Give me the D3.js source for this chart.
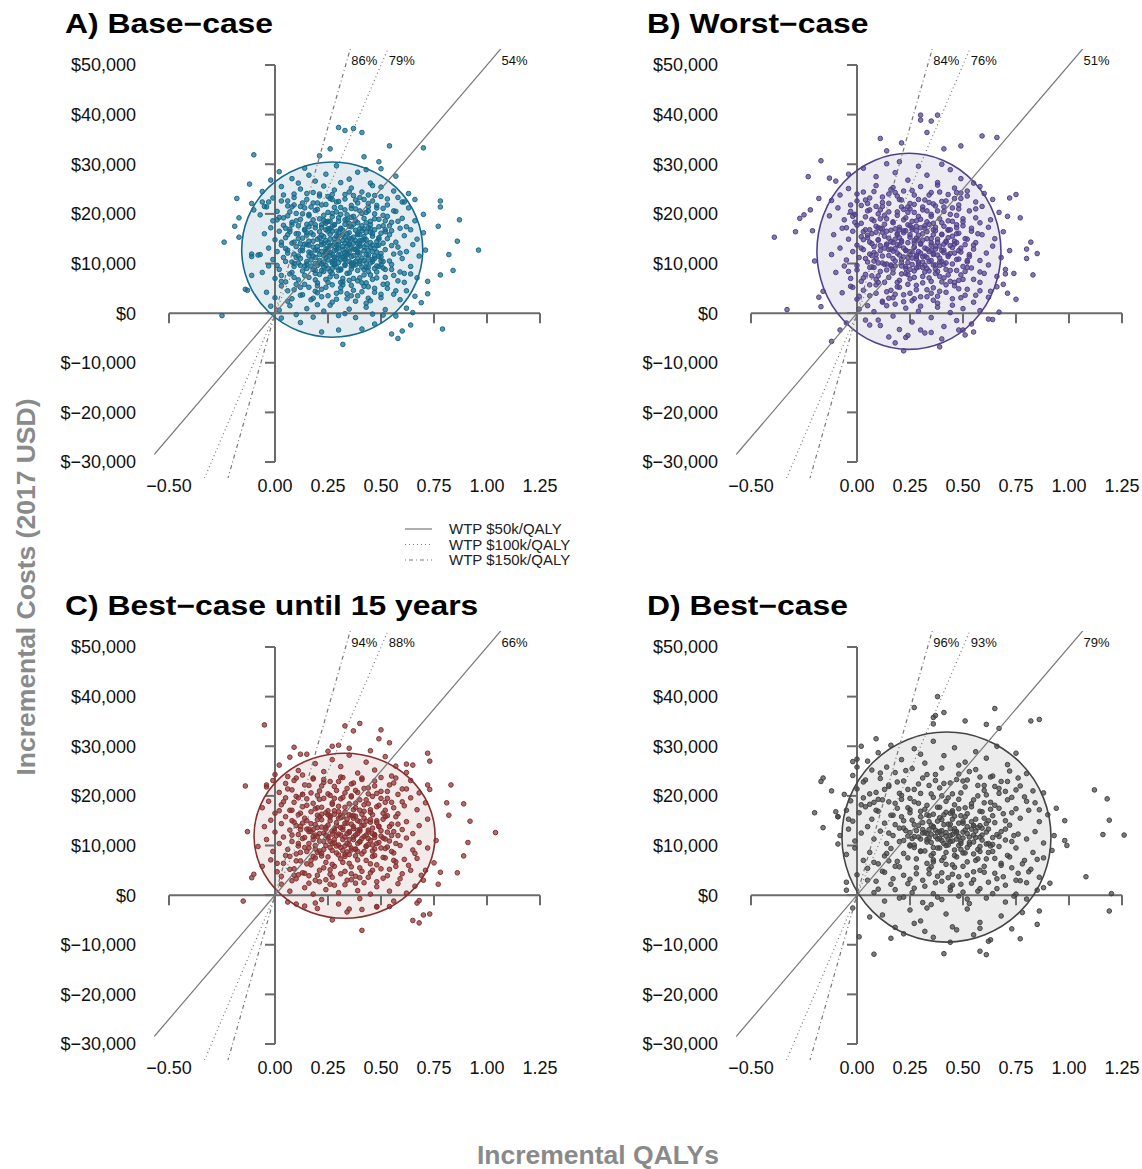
<!DOCTYPE html>
<html>
<head>
<meta charset="utf-8">
<script src="https://cdn.jsdelivr.net/npm/d3@7"></script>
<style>
  body { margin: 0; background: #fff; }
  svg text { font-family: "Liberation Sans", Arial, Helvetica, sans-serif; }
</style>
</head>
<body>
<svg id="chart" width="1142" height="1169"></svg>
<script>
// ---- data ----
const panelTitles = ["A) Base\u2212case", "B) Worst\u2212case", "C) Best\u2212case until 15 years", "D) Best\u2212case"]
const wtpValues = [50000, 100000, 150000]
const wtpNames = ["WTP $50k/QALY", "WTP $100k/QALY", "WTP $150k/QALY"]
const probsA = [54, 79, 86]
const probsB = [51, 76, 84]
const probsC = [66, 88, 94]
const probsD = [79, 93, 96]
const xTicks = [-0.5, 0, 0.25, 0.5, 0.75, 1, 1.25]
const yTicks = [-30000, -20000, -10000, 0, 10000, 20000, 30000, 40000, 50000]
// 95% ellipse: centre (QALY, $) and radii
const ellipseA = [0.27, 12800, 0.427, 17650]
const ellipseB = [0.245, 12450, 0.434, 19760]
const ellipseC = [0.328, 11970, 0.427, 16630]
const ellipseD = [0.422, 11700, 0.493, 21170]

// simulations: [QALY x100, cost / 100]
const pointsA = [[30,374],[33,368],[37,372],[41,364],[26,331],[21,317],[-10,319],[54,337],[70,333],[42,315],[49,305],[-18,231],[-24,143],[-19,175],[-17,192],[-17,153],[-12,260],[78,226],[78,214],[87,188],[77,175],[86,145],[96,127],[82,118],[84,86],[78,77],[72,64],[72,39],[69,21],[65,1],[64,-24],[60,-36],[55,-42],[58,-51],[79,-32],[32,-63],[-25,-5],[-14,48],[-13,46],[-11,76],[-11,119],[-11,114],[-8,117],[-10,208],[-11,221],[-6,224],[-5,215],[12,-19],[22,-38],[30,-34],[41,-32],[47,-22],[51,-4],[3,-10],[-2,14],
[2,285],[8,271],[14,292],[19,266],[24,280],[29,297],[35,270],[39,284],[45,262],[50,291],[-2,268],[11,262],[31,263],[57,276],[16,278],[43,289],
[-6,245],[-1,232],[3,255],[6,226],[9,240],[12,250],[15,229],[18,243],[20,222],[23,256],[25,235],[28,248],[30,225],[33,239],[36,252],[38,228],[41,244],[44,221],[47,237],[50,254],[53,230],[56,246],[60,224],[63,241],[4,238],[13,222],[27,229],[35,244],[46,257],[58,233],[66,229],[-3,224],[21,240],[40,233],
[-7,198],[-4,214],[-1,186],[1,205],[4,192],[6,216],[8,183],[10,201],[12,189],[14,212],[16,196],[17,181],[19,207],[21,190],[22,218],[24,184],[25,203],[27,194],[28,213],[30,185],[31,199],[33,208],[34,188],[36,217],[37,195],[39,182],[40,206],[42,191],[44,214],[45,185],[47,200],[49,189],[51,211],[53,195],[55,183],[57,205],[60,191],[63,212],[66,186],[70,199],[2,193],[13,200],[23,197],[29,204],[35,181],[43,203],[52,186],[9,218],[18,188],[26,185],[38,210],[48,217],
[-5,160],[-2,172],[0,148],[2,165],[4,177],[5,152],[7,169],[9,143],[10,160],[11,176],[13,151],[14,167],[15,179],[16,145],[18,158],[19,172],[20,149],[21,164],[22,178],[23,154],[24,168],[25,142],[26,159],[27,175],[28,150],[29,165],[30,144],[31,171],[32,157],[33,179],[34,147],[35,162],[36,174],[37,153],[38,167],[39,141],[40,158],[41,176],[42,149],[43,163],[44,172],[46,155],[47,168],[48,144],[50,161],[51,176],[53,150],[55,166],[57,143],[59,171],[61,156],[64,168],[67,149],[70,162],[6,158],[12,140],[17,162],[22,143],[26,170],[30,155],[33,141],[37,179],[40,146],[45,178],[49,152],[54,158],[62,174],[3,143],[8,178],[15,157],[24,146],[28,178],[35,151],[42,170],[52,168],
[-7,118],[-3,131],[-1,108],[1,124],[3,137],[4,112],[6,127],[8,103],[9,119],[10,134],[12,110],[13,126],[14,139],[15,104],[17,121],[18,133],[19,112],[20,127],[21,101],[22,138],[23,116],[24,130],[25,107],[26,122],[27,136],[28,113],[29,128],[30,102],[31,119],[32,134],[33,109],[34,125],[35,138],[36,114],[37,129],[38,104],[39,121],[40,135],[41,111],[42,126],[43,101],[44,117],[45,132],[46,108],[48,123],[49,137],[50,113],[52,128],[54,105],[56,119],[58,133],[60,110],[62,124],[65,138],[68,115],[71,127],[5,130],[11,115],[16,137],[19,100],[24,119],[27,104],[30,131],[33,122],[36,101],[39,132],[43,138],[47,115],[51,104],[55,136],[59,121],[16,115],[25,126],[34,117],[29,111],[22,124],
[-6,82],[-3,95],[0,70],[2,88],[5,63],[7,79],[9,94],[11,67],[13,85],[15,99],[16,72],[18,88],[20,61],[21,78],[23,93],[24,68],[26,84],[28,97],[29,74],[31,89],[32,63],[34,80],[36,95],[37,70],[39,86],[41,61],[42,77],[44,92],[46,68],[48,83],[50,97],[52,72],[55,88],[58,65],[61,80],[64,94],[67,71],[3,76],[12,96],[19,80],[25,62],[33,98],[40,71],[47,90],[56,76],[27,80],[35,66],[22,86],
[-4,42],[0,31],[3,55],[6,24],[9,47],[12,36],[14,58],[17,27],[19,44],[22,33],[24,52],[27,22],[29,40],[32,57],[34,29],[37,46],[39,35],[42,54],[45,25],[47,42],[50,31],[53,50],[56,38],[59,27],[62,45],[66,34],[8,29],[20,55],[31,43],[43,20],[51,58],
[2,6],[7,15],[10,-3],[15,9],[18,-8],[23,4],[26,16],[30,-5],[35,8],[38,-9],[43,12],[46,-2],[52,7],[57,-6],[62,10],[20,17],[33,-1],
[6,121],[8,141],[10,112],[11,150],[13,131],[14,95],[15,162],[16,123],[17,107],[18,145],[19,86],[20,134],[21,118],[22,157],[22,99],[23,140],[24,112],[24,181],[25,131],[25,90],[26,149],[26,116],[27,101],[27,165],[28,126],[28,141],[29,93],[29,155],[30,118],[30,137],[31,108],[31,170],[32,128],[32,146],[33,96],[33,115],[34,160],[34,135],[35,104],[35,123],[36,150],[36,89],[37,141],[37,116],[38,128],[38,97],[39,158],[39,110],[40,139],[40,121],[41,93],[41,166],[42,133],[42,106],[43,148],[43,118],[44,127],[44,84],[45,142],[45,101],[46,160],[46,124],[47,110],[48,136],[48,95],[49,149],[50,120],[50,105],[51,141],[52,88],[12,126],[9,100],[7,164],[16,174],[19,127],[21,152],[23,103],[25,170],[27,118],[29,138],[31,87],[33,153],[35,140],[37,101],[39,123],[41,146],[43,92],[45,170],[47,130],[49,114],[15,138],[18,115],[20,96],[24,124],[26,136],[28,107],[30,162],[32,112],[34,120],[36,132],[38,146],[40,104],[42,154],[44,111],[46,137],
[1,188],[3,226],[5,171],[7,204],[9,233],[10,186],[12,215],[14,169],[15,241],[16,199],[18,222],[19,178],[20,209],[21,236],[23,187],[24,219],[25,165],[26,231],[27,201],[28,178],[29,224],[30,192],[31,213],[32,167],[33,230],[34,198],[35,175],[36,211],[37,237],[38,186],[39,222],[40,170],[41,201],[42,229],[43,182],[44,206],[45,163],[46,226],[47,190],[48,212],[49,174],[50,235],[51,197],[53,218],[54,176],[56,206],[58,185],[61,224],[6,196],[11,160],[17,214],[22,173],[27,239],[33,188],[39,161],[44,238],[52,164],[8,214],[25,185],[36,193],
[1,96],[3,64],[5,104],[6,45],[8,82],[10,58],[11,101],[13,37],[14,76],[16,52],[17,95],[18,30],[19,67],[21,106],[22,48],[23,84],[25,35],[26,73],[27,57],[28,100],[29,28],[30,86],[31,51],[32,70],[33,108],[34,39],[35,81],[36,56],[37,97],[38,24],[39,65],[40,100],[41,43],[42,88],[43,61],[44,30],[45,77],[46,104],[47,50],[48,71],[50,38],[51,91],[53,59],[55,98],[57,45],[59,83],[61,62],[64,79],[9,72],[15,90],[20,41],[24,96],[31,62],[36,35],[44,53],[49,94],[12,52],[27,90]]

const pointsB = [[30,399],[38,399],[30,389],[35,387],[33,364],[59,357],[66,354],[11,352],[21,343],[41,331],[49,337],[14,327],[-17,307],[-23,275],[-13,272],[-18,231],[-22,208],[-27,191],[-25,198],[-39,153],[-29,164],[-21,166],[-20,105],[-33,7],[72,232],[75,239],[77,192],[82,143],[80,129],[85,120],[80,110],[83,77],[70,79],[69,58],[64,-13],[51,-44],[39,-68],[22,-76],[18,-60],[23,-49],[-12,-57],[-8,-34],[-5,-20],[-18,32],[-17,13],[-16,44],[48,-34],[50,-34],[30,-34],[35,-39],[6,-24],[10,-14],
[3,292],[9,275],[14,301],[18,283],[24,268],[29,296],[33,278],[38,263],[44,289],[49,271],[-4,280],[20,305],[40,300],[55,262],[-10,266],
[-8,238],[-4,251],[0,226],[3,244],[6,232],[9,257],[12,223],[15,240],[17,253],[20,229],[22,246],[25,221],[27,238],[30,255],[32,228],[35,243],[38,258],[40,225],[43,239],[46,252],[49,231],[52,246],[56,224],[60,241],[64,229],[-12,227],[5,221],[19,236],[34,223],[47,243],[58,255],
[-13,196],[-9,212],[-6,188],[-3,205],[-1,183],[2,217],[4,194],[6,208],[8,186],[10,200],[12,215],[14,190],[15,204],[17,182],[19,197],[21,214],[22,188],[24,203],[26,185],[27,219],[29,195],[31,208],[33,184],[35,199],[37,216],[39,190],[41,205],[43,186],[45,212],[47,197],[50,184],[53,206],[56,192],[59,215],[63,188],[67,203],[71,195],[11,190],[25,210],[36,181],[48,218],[-2,195],
[-11,158],[-7,171],[-4,149],[-2,165],[0,177],[2,154],[4,168],[6,143],[7,160],[9,175],[10,148],[12,163],[13,179],[15,151],[16,167],[17,142],[19,158],[20,173],[21,146],[22,162],[24,178],[25,153],[26,168],[27,141],[29,157],[30,172],[31,147],[33,164],[34,179],[35,150],[37,166],[38,143],[40,159],[41,175],[43,152],[44,168],[46,145],[48,161],[50,176],[52,149],[54,165],[56,142],[59,158],[62,173],[65,150],[69,164],[5,157],[11,171],[18,149],[23,166],[28,151],[32,176],[36,158],[42,143],[47,172],[57,160],
[-12,118],[-8,131],[-5,107],[-2,124],[0,137],[1,112],[3,128],[5,103],[6,119],[8,134],[9,110],[11,126],[12,101],[14,138],[15,116],[16,129],[18,105],[19,121],[20,136],[22,113],[23,127],[24,102],[25,118],[27,133],[28,109],[29,124],[30,139],[32,115],[33,129],[34,104],[36,120],[37,135],[39,111],[40,126],[42,101],[43,117],[45,132],[47,108],[49,123],[51,138],[53,114],[55,129],[58,106],[61,121],[64,135],[68,112],[72,126],[7,116],[13,131],[21,108],[26,124],[31,103],[35,137],[41,122],[46,139],[52,103],[18,130],[28,117],
[-10,82],[-6,95],[-3,70],[0,87],[2,64],[4,78],[7,93],[9,68],[11,84],[13,98],[15,72],[17,88],[19,62],[21,79],[23,94],[25,69],[27,85],[29,99],[31,74],[33,90],[35,64],[37,80],[39,96],[41,71],[44,86],[46,62],[49,77],[52,92],[55,68],[58,83],[62,97],[66,74],[70,88],[74,80],[10,62],[24,78],[36,97],[48,66],[16,95],
[-7,41],[-3,54],[0,28],[3,46],[6,35],[9,57],[12,24],[14,43],[17,31],[20,52],[22,23],[25,40],[28,56],[30,33],[33,47],[36,26],[39,44],[42,57],[45,29],[48,49],[51,36],[55,22],[58,45],[62,32],[66,53],[71,40],[75,28],[18,38],[27,29],[38,34],
[1,8],[4,-14],[8,3],[11,-25],[14,15],[17,-6],[20,-33],[23,10],[26,-18],[29,4],[32,-40],[35,-9],[38,12],[41,-27],[44,1],[47,-15],[50,9],[54,-22],[58,5],[62,-12],[67,2],[24,-45],[15,-48],[40,-52],[55,-38],
[2,131],[4,110],[5,152],[6,92],[7,140],[8,122],[9,163],[10,101],[11,136],[12,115],[13,155],[14,87],[15,128],[16,144],[17,110],[18,170],[18,95],[19,138],[20,117],[20,152],[21,102],[22,131],[22,166],[23,90],[24,142],[24,112],[25,158],[25,124],[26,98],[27,146],[27,133],[28,114],[28,175],[29,103],[30,140],[30,121],[31,160],[31,92],[32,131],[33,112],[33,150],[34,124],[34,85],[35,142],[35,106],[36,168],[37,129],[37,97],[38,149],[38,117],[39,135],[40,104],[40,158],[41,127],[42,88],[42,145],[43,114],[44,136],[45,99],[45,155],[46,121],[47,142],[48,109],[49,131],[50,94],[51,150],[53,118],[55,137],[3,148],[9,118],[14,139],[19,160],[23,126],[26,111],[29,148],[32,96],[36,118],[39,103],[41,139],[44,120],[47,160],[16,97],[21,143],[26,172],[31,114],[35,127],[12,170],[8,105],[17,125],[28,91],[38,84],[43,168],[48,126],[52,106],[10,147],
[-5,172],[-3,218],[-1,199],[0,240],[2,181],[4,228],[5,206],[7,189],[8,245],[9,215],[10,172],[12,234],[13,197],[14,165],[15,221],[17,184],[18,243],[19,204],[20,168],[21,228],[23,192],[24,214],[25,176],[26,247],[27,203],[28,166],[29,229],[30,189],[31,214],[32,171],[34,238],[35,195],[36,220],[37,173],[38,206],[39,244],[40,182],[42,226],[43,167],[44,199],[46,231],[47,178],[48,210],[50,190],[52,236],[54,171],[56,210],[58,182],[3,164],[11,208],[16,249],[22,209],[28,186],[33,206],[41,214],[45,185],[49,242],[6,168],
[-4,84],[-2,52],[0,96],[1,34],[3,71],[5,15],[6,57],[8,92],[9,40],[10,75],[12,22],[13,62],[14,99],[16,46],[17,81],[18,18],[20,66],[21,95],[22,37],[24,58],[25,88],[26,25],[27,72],[28,47],[29,93],[30,14],[31,61],[32,83],[33,33],[34,71],[36,51],[37,89],[38,20],[40,63],[41,98],[42,42],[43,77],[45,16],[46,55],[47,86],[49,31],[50,68],[52,48],[54,91],[56,36],[58,62],[60,80],[63,44],[7,75],[15,30],[23,80],[35,40],[44,64],[51,84],[19,53],[39,74]]

const pointsC = [[-5,343],[33,341],[40,346],[37,331],[50,333],[49,315],[54,307],[27,300],[30,302],[35,296],[9,298],[12,284],[72,286],[73,270],[62,264],[65,262],[-14,220],[-4,222],[73,213],[83,222],[81,186],[89,184],[82,161],[92,149],[104,126],[-13,128],[91,106],[89,79],[86,45],[78,46],[77,22],[-10,42],[-11,35],[-15,-12],[68,-11],[67,-16],[70,-40],[73,-38],[65,-51],[68,-56],[41,-71],[27,-50],[34,-34],[41,-29],[48,-23],[54,-23],[19,-16],[10,-18],
[2,262],[7,278],[11,251],[15,284],[19,265],[23,249],[27,273],[31,259],[35,282],[39,246],[43,268],[47,252],[52,279],[57,260],[62,247],[0,243],[25,290],[45,291],[13,242],
[-4,218],[-1,231],[2,207],[5,225],[8,212],[10,236],[13,203],[16,221],[18,234],[21,210],[23,227],[26,201],[28,219],[31,238],[33,206],[36,224],[38,211],[41,233],[44,204],[47,220],[50,237],[53,209],[56,226],[60,214],[64,231],[68,206],[6,239],[20,201],[30,229],[42,215],[55,240],[72,222],
[-6,176],[-3,189],[0,165],[3,182],[5,196],[7,171],[9,187],[11,162],[13,178],[15,194],[17,168],[18,185],[20,161],[22,177],[23,195],[25,170],[27,186],[28,163],[30,179],[32,197],[33,167],[35,184],[37,160],[38,176],[40,192],[42,169],[44,184],[46,162],[48,178],[50,195],[52,171],[55,187],[58,164],[61,180],[64,196],[67,172],[71,186],[10,199],[26,160],[36,198],[45,172],[53,160],[2,170],
[-5,138],[-2,151],[0,127],[3,144],[5,158],[7,131],[9,147],[11,122],[12,139],[14,155],[16,128],[17,144],[19,121],[20,136],[22,152],[23,125],[25,141],[26,157],[28,130],[29,146],[31,121],[32,137],[34,153],[35,128],[36,143],[38,159],[39,124],[41,140],[42,155],[44,131],[45,147],[47,122],[49,138],[51,153],[53,127],[55,143],[57,158],[60,132],[62,148],[65,124],[68,140],[72,153],[8,150],[15,133],[21,158],[27,123],[33,145],[37,134],[43,121],[48,150],[58,120],[24,133],[30,155],[40,129],
[-8,98],[-4,112],[-1,88],[2,104],[4,117],[6,92],[8,108],[10,83],[11,99],[13,114],[15,88],[16,104],[18,118],[19,93],[21,109],[22,84],[24,100],[25,115],[27,90],[28,105],[30,81],[31,96],[32,112],[34,87],[35,102],[37,117],[38,92],[40,108],[41,83],[43,98],[44,114],[46,89],[48,104],[50,119],[52,94],[54,109],[56,85],[59,100],[62,115],[65,91],[68,106],[72,95],[76,110],[14,96],[26,108],[33,82],[39,104],[47,116],[29,99],[20,118],[36,91],
[-6,58],[-2,71],[1,47],[4,64],[7,78],[9,53],[12,69],[14,44],[17,61],[19,75],[21,50],[24,66],[26,42],[28,58],[31,73],[33,48],[35,64],[38,79],[40,55],[43,70],[45,45],[48,61],[51,76],[54,52],[57,67],[60,43],[63,60],[67,74],[71,50],[75,65],[22,79],[36,43],[46,78],[11,41],
[3,22],[7,8],[10,33],[14,15],[18,2],[21,27],[24,11],[27,36],[30,5],[33,21],[36,31],[39,9],[42,25],[45,2],[48,17],[51,34],[54,8],[58,23],[62,4],[66,18],[70,30],[26,22],[38,38],[16,39],
[6,-14],[14,-22],[22,-9],[30,-18],[40,-7],[48,-24],[56,-12],[35,-28],[20,-27],
[8,121],[10,140],[11,104],[12,132],[14,116],[15,150],[16,95],[17,128],[18,112],[19,142],[20,86],[21,124],[22,163],[23,108],[24,137],[25,118],[26,96],[26,150],[27,129],[28,112],[28,170],[29,140],[30,101],[30,123],[31,156],[32,90],[32,132],[33,117],[34,145],[34,104],[35,126],[36,160],[36,95],[37,138],[37,112],[38,121],[39,150],[39,88],[40,132],[40,107],[41,163],[42,118],[42,141],[43,99],[44,127],[45,152],[45,110],[46,135],[47,93],[47,121],[48,146],[49,106],[50,130],[51,115],[52,158],[53,97],[54,138],[55,120],[57,104],[58,143],[13,145],[16,133],[19,100],[22,137],[24,121],[27,104],[29,120],[31,136],[33,99],[35,112],[37,155],[39,131],[41,114],[43,149],[46,124],[49,139],[52,113],[20,152],[25,162],[32,158],[38,93],[44,102],[50,95],[56,128],[18,132],[23,92],[28,134],[34,124],[40,148],[46,101],
[4,188],[6,214],[8,171],[9,231],[11,196],[12,165],[14,222],[15,181],[17,206],[18,236],[19,174],[21,193],[22,220],[24,166],[25,204],[26,229],[27,183],[29,211],[30,168],[31,194],[32,237],[33,177],[34,215],[35,162],[36,200],[37,226],[38,185],[39,207],[40,171],[41,236],[43,192],[44,216],[45,167],[46,199],[47,230],[49,181],[50,209],[51,165],[53,195],[54,222],[56,176],[58,203],[60,188],[62,214],[13,203],[20,176],[28,195],[37,172],[42,182],[48,205],[57,236],[23,233],[31,161],[52,187],
[1,64],[3,38],[5,80],[7,52],[8,29],[10,69],[12,86],[13,45],[15,63],[16,24],[18,78],[20,40],[21,89],[23,55],[24,31],[25,77],[27,62],[28,20],[29,85],[31,43],[32,66],[34,30],[35,82],[36,57],[38,24],[39,71],[41,48],[42,88],[44,36],[45,63],[47,80],[48,27],[50,53],[52,75],[53,39],[55,88],[57,58],[59,33],[61,72],[64,50],[66,84],[69,40],[9,40],[17,70],[26,51],[33,78],[40,35],[46,50],[56,70],[19,30]]

const pointsD = [[38,400],[27,378],[41,368],[37,362],[36,358],[36,345],[65,376],[82,351],[86,354],[51,351],[61,344],[67,336],[9,315],[2,300],[-16,236],[-17,229],[-12,210],[-2,269],[0,274],[-20,166],[-10,168],[-9,158],[-16,136],[-9,103],[-4,153],[112,212],[118,194],[119,151],[116,122],[126,121],[98,150],[99,100],[108,37],[120,3],[119,-32],[86,-32],[85,-59],[77,-88],[61,-120],[58,-113],[62,-93],[41,-118],[16,-87],[8,-119],[1,-84],[6,-44],[-2,-26],[-5,10],[-5,26],[45,-64],[58,-67],[27,-57],[32,-73],
[10,287],[16,302],[21,273],[27,295],[32,266],[36,310],[41,281],[46,297],[51,268],[56,289],[61,276],[66,300],[71,263],[5,270],[30,284],[48,262],[75,286],
[-2,241],[3,228],[7,252],[11,235],[15,222],[18,247],[22,230],[26,255],[29,224],[33,243],[37,231],[40,256],[44,226],[48,244],[52,232],[56,253],[60,221],[64,240],[68,229],[72,250],[76,236],[80,245],[14,258],[34,221],[58,238],[0,258],
[-6,203],[-3,190],[0,214],[3,196],[6,183],[9,207],[12,192],[15,219],[18,185],[21,201],[24,213],[27,188],[30,205],[33,181],[36,197],[39,216],[42,189],[45,204],[48,193],[51,218],[54,184],[57,200],[60,211],[63,187],[67,205],[71,192],[75,212],[79,198],[84,186],[88,206],[25,195],[46,182],[65,219],[8,187],
[-9,158],[-5,171],[-2,149],[1,166],[4,178],[7,153],[10,169],[13,145],[16,161],[19,175],[22,150],[25,166],[27,142],[30,158],[32,173],[34,148],[36,163],[38,177],[40,152],[42,167],[44,143],[46,159],[48,174],[50,149],[52,164],[54,178],[56,153],[58,169],[61,144],[64,160],[67,175],[70,150],[73,166],[77,155],[81,171],[86,148],[90,162],[94,175],[24,176],[35,141],[45,170],[55,140],[39,156],[49,160],[63,173],
[-8,120],[-4,133],[-1,109],[2,125],[5,138],[8,113],[11,129],[14,104],[17,120],[20,135],[22,110],[25,126],[27,101],[29,117],[31,132],[33,107],[35,123],[36,138],[38,113],[39,128],[41,104],[42,119],[44,134],[45,109],[47,125],[48,100],[50,115],[51,131],[53,106],[55,121],[57,136],[59,111],[61,127],[64,102],[67,118],[70,133],[73,108],[76,123],[80,113],[84,128],[88,105],[93,120],[98,110],[34,115],[37,131],[40,122],[43,112],[46,129],[49,108],[52,124],[32,126],[26,114],[58,117],[62,104],[23,130],[54,133],
[-5,82],[-1,95],[3,70],[6,86],[10,63],[13,79],[16,94],[19,68],[22,84],[25,99],[28,73],[30,89],[33,64],[35,80],[38,95],[40,70],[42,86],[45,61],[47,77],[49,92],[52,67],[55,83],[58,98],[61,73],[64,88],[68,64],[71,80],[75,95],[79,70],[83,86],[88,75],[92,90],[41,76],[50,85],[36,67],[57,73],
[0,41],[5,54],[9,28],[13,46],[17,33],[20,57],[24,23],[28,43],[31,30],[34,52],[37,25],[40,45],[43,35],[46,56],[49,22],[52,40],[55,31],[58,50],[62,26],[65,44],[69,37],[73,55],[77,29],[81,47],[86,36],[91,24],[45,42],[38,38],[60,58],
[8,5],[13,-12],[18,11],[22,-4],[27,14],[31,-15],[36,3],[40,-9],[44,16],[48,-2],[53,-17],[57,8],[61,-6],[66,13],[70,-14],[75,2],[80,-8],[85,10],[35,-19],[50,6],
[12,-40],[18,-65],[25,-30],[30,-52],[36,-85],[42,-38],[47,-70],[52,-28],[58,-55],[63,-90],[68,-42],[73,-68],[22,-78],[44,-95],[55,-80],[78,-35],[33,-26],
[15,125],[18,142],[20,108],[22,135],[24,119],[26,151],[27,96],[28,130],[30,113],[31,146],[32,89],[33,124],[34,160],[35,106],[36,137],[37,118],[38,149],[39,95],[40,130],[40,110],[41,162],[42,126],[43,143],[43,101],[44,120],[45,153],[46,91],[46,134],[47,113],[48,145],[49,104],[50,127],[51,158],[52,96],[52,138],[53,117],[54,148],[55,107],[56,129],[57,92],[58,140],[59,121],[60,155],[61,103],[62,133],[64,116],[65,146],[67,98],[68,128],[70,111],[72,141],[74,120],[21,158],[25,101],[29,140],[33,112],[36,96],[38,126],[41,142],[44,108],[47,128],[50,145],[53,102],[56,116],[59,135],[63,99],[66,122],[34,132],[45,122],[42,100],[48,118],[39,114],[55,140],[31,125],[62,150],[27,118],[44,165],[51,85],[36,84],[58,88],
[2,182],[4,232],[6,204],[9,171],[11,246],[13,213],[15,188],[17,161],[19,228],[21,193],[23,251],[25,172],[27,213],[29,185],[31,236],[33,162],[35,204],[37,243],[39,177],[41,225],[43,196],[45,167],[47,233],[49,206],[51,176],[53,249],[55,192],[57,221],[59,168],[61,202],[63,238],[65,181],[67,215],[69,164],[71,229],[73,197],[75,174],[77,220],[80,189],[83,210],[86,172],[10,193],[20,205],[30,169],[40,200],[50,230],[60,186],[70,209],
[5,30],[8,66],[10,12],[12,48],[14,84],[16,22],[18,58],[20,-6],[22,40],[24,75],[26,5],[28,55],[30,88],[32,18],[34,43],[36,71],[38,-4],[40,28],[42,62],[44,10],[46,80],[48,37],[50,58],[52,-8],[54,24],[56,70],[58,13],[60,46],[62,86],[64,3],[66,33],[68,60],[70,20],[72,77],[74,-2],[76,44],[78,63],[80,25],[82,52],[85,72],[88,15],[15,69],[25,32],[35,57],[45,20],[55,47],[65,74],[75,30]]

const panels = [
  { title: panelTitles[0], probs: probsA, ell: ellipseA, pts: pointsA, ox: 0, oy: 0,
    col: "#176a8b", fill: "rgba(28,109,141,0.12)" },
  { title: panelTitles[1], probs: probsB, ell: ellipseB, pts: pointsB, ox: 582, oy: 0,
    col: "#52418a", fill: "rgba(86,71,138,0.11)" },
  { title: panelTitles[2], probs: probsC, ell: ellipseC, pts: pointsC, ox: 0, oy: 582,
    col: "#873030", fill: "rgba(138,53,53,0.10)" },
  { title: panelTitles[3], probs: probsD, ell: ellipseD, pts: pointsD, ox: 582, oy: 582,
    col: "#444444", fill: "rgba(80,80,80,0.11)" }
]

const svg = d3.select("#chart")
const dashes = [null, "1,3", "1,3,4,3"]
const fmtCost = v => "$" + d3.format(",")(v)
const fmtQ = d3.format(".2f")

panels.forEach((p, i) => {
  const x = d3.scaleLinear().domain([-0.5, 1.25]).range([p.ox + 169, p.ox + 540])
  const y = d3.scaleLinear().domain([-30000, 50000]).range([p.oy + 462, p.oy + 65])
  const g = svg.append("g")

  const clipId = "clip" + i
  svg.append("clipPath").attr("id", clipId).append("rect")
    .attr("x", x(-0.57)).attr("y", y(53200))
    .attr("width", x(1.32) - x(-0.57)).attr("height", y(-33200) - y(53200))

  // title (the original lettering is a touch wider than Arial)
  g.append("text")
    .attr("transform", `translate(${p.ox + 65},${p.oy + 33}) scale(1.18,1)`)
    .attr("font-size", 27).attr("font-weight", "bold").attr("fill", "#000")
    .text(p.title)

  // ellipse
  const [cx, cy, rx, ry] = p.ell
  g.append("ellipse")
    .attr("cx", x(cx)).attr("cy", y(cy))
    .attr("rx", x(rx) - x(0)).attr("ry", y(0) - y(ry))
    .attr("fill", p.fill).attr("stroke", "none")

  // axes through the origin
  const ax = g.append("g").attr("stroke", "#6b6b6b").attr("stroke-width", 2).attr("fill", "none")
  ax.append("line").attr("x1", x(-0.5)).attr("x2", x(1.25)).attr("y1", y(0)).attr("y2", y(0))
  ax.selectAll(".xt").data(xTicks).enter().append("line")
    .attr("x1", d => x(d)).attr("x2", d => x(d)).attr("y1", y(0)).attr("y2", y(0) + 10)
  ax.append("line").attr("x1", x(0)).attr("x2", x(0)).attr("y1", y(-30000)).attr("y2", y(50000))
  ax.selectAll(".yt").data(yTicks).enter().append("line")
    .attr("x1", x(0) - 10).attr("x2", x(0)).attr("y1", d => y(d)).attr("y2", d => y(d))

  // tick labels
  g.selectAll(".yl").data(yTicks).enter().append("text")
    .attr("x", p.ox + 136).attr("y", d => y(d)).attr("dy", "0.36em")
    .attr("text-anchor", "end").attr("font-size", 18).attr("fill", "#111")
    .text(fmtCost)
  g.selectAll(".xl").data(xTicks).enter().append("text")
    .attr("x", d => x(d)).attr("y", p.oy + 492)
    .attr("text-anchor", "middle").attr("font-size", 18).attr("fill", "#111")
    .text(fmtQ)

  // simulation points
  g.append("g").selectAll("circle").data(p.pts).enter().append("circle")
    .attr("cx", d => x(d[0] / 100)).attr("cy", d => y(d[1] * 100))
    .attr("r", 2.3)
    .attr("fill", p.col).attr("fill-opacity", 0.7)
    .attr("stroke", p.col).attr("stroke-width", 1)

  g.append("ellipse")
    .attr("cx", x(cx)).attr("cy", y(cy))
    .attr("rx", x(rx) - x(0)).attr("ry", y(0) - y(ry))
    .attr("fill", "none").attr("stroke", p.col).attr("stroke-width", 1.6)

  // willingness-to-pay lines
  const wl = g.append("g").attr("clip-path", `url(#${clipId})`)
  wtpValues.forEach((w, k) => {
    wl.append("line")
      .attr("x1", x(-0.57)).attr("y1", y(-0.57 * w))
      .attr("x2", x(1.32)).attr("y2", y(1.32 * w))
      .attr("stroke", "#777").attr("stroke-width", 1.2)
      .attr("stroke-dasharray", dashes[k])
    g.append("text")
      .attr("x", x(53200 / w) + 1).attr("y", y(53200) + 16)
      .attr("font-size", 13).attr("fill", "#111")
      .text(p.probs[k] + "%")
  })
})

// legend
const leg = svg.append("g")
wtpNames.forEach((n, k) => {
  const ly = 529 + k * 15.5
  leg.append("line").attr("x1", 405).attr("x2", 432).attr("y1", ly).attr("y2", ly)
    .attr("stroke", "#777").attr("stroke-width", 1.2).attr("stroke-dasharray", dashes[k])
  leg.append("text").attr("x", 449).attr("y", ly).attr("dy", "0.36em")
    .attr("font-size", 15).attr("fill", "#222").text(n)
})

// axis titles
svg.append("text").attr("transform", "translate(35,587) rotate(-90)")
  .attr("text-anchor", "middle").attr("font-size", 26.5).attr("font-weight", "bold")
  .attr("fill", "#8a8a8a").text("Incremental Costs (2017 USD)")
svg.append("text").attr("x", 598).attr("y", 1164)
  .attr("text-anchor", "middle").attr("font-size", 26.5).attr("font-weight", "bold")
  .attr("fill", "#8a8a8a").text("Incremental QALYs")
</script>
</body>
</html>
